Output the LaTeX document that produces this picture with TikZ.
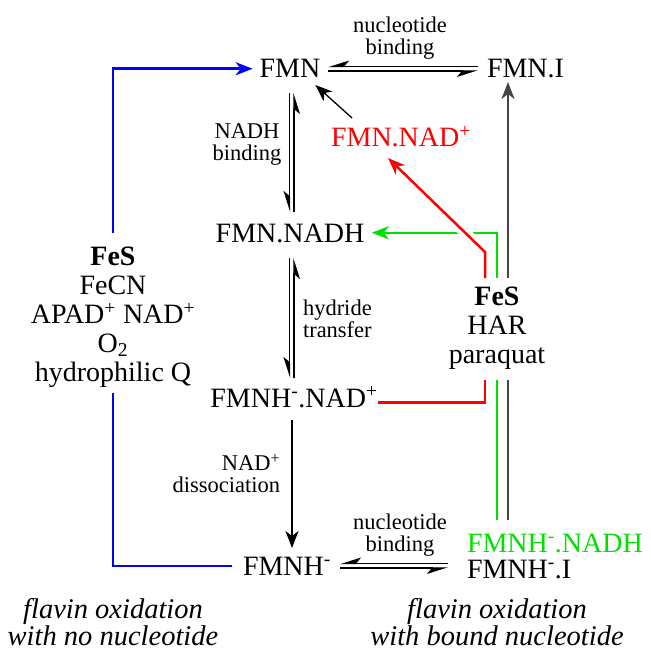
\documentclass[tikz,border=0pt]{standalone}
\usepackage{fontspec}
\setmainfont{Liberation Serif}
\usetikzlibrary{arrows.meta,calc}
\definecolor{myblue}{RGB}{0,0,255}
\definecolor{myred}{RGB}{255,0,0}
\definecolor{mygreen}{RGB}{0,225,0}
\definecolor{mygray}{RGB}{70,70,70}
\begin{document}
\begin{tikzpicture}[x=1pt,y=-1pt,
  every node/.style={inner sep=0pt, outer sep=0pt},
  species/.style={font=\fontsize{28}{29}\selectfont, text height=18.5pt, text depth=0pt, anchor=base},
  blockt/.style={font=\fontsize{28}{29}\selectfont, align=center, anchor=north},
  lab/.style={font=\fontsize{22.5}{22}\selectfont, anchor=north},
  note/.style={font=\fontsize{28.5}{27.5}\selectfont\itshape, align=center, anchor=north},
  harp/.style={line width=1.3pt, -{Stealth[right,length=19pt,width=12pt,inset=5pt]}},
  tipa/.style={-{Stealth[length=17pt,width=13pt,inset=5pt]}},
  bluec/.style={draw=myblue, line width=2.5pt},
  redc/.style={draw=myred, line width=2.5pt},
  greenc/.style={draw=mygreen, line width=2.5pt},
  grayc/.style={draw=mygray, line width=2pt},
  thinc/.style={line width=1.3pt}
]
\useasboundingbox (0,0) rectangle (650,652);

% species
\node[species] (fmn) at (290,78) {FMN};
\node[species, anchor=base west] (fmni) at (487,78) {FMN.I};
\node[species, text=myred] (fmnnad) at (401,147) {FMN.NAD\textsuperscript{+}};
\node[species] (fmnnadh) at (290,242) {FMN.NADH};
\node[species] (fmnhnad) at (294,407) {FMNH\textsuperscript{-}.NAD\textsuperscript{+}};
\node[species] (fmnh) at (287,575) {FMNH\textsuperscript{-}};
\node[species, anchor=base west, text=mygreen] (fmnhnadh) at (467,552) {FMNH\textsuperscript{-}.NADH};
\node[species, anchor=base west] (fmnhi) at (467,578) {FMNH\textsuperscript{-}.I};

% reagent blocks
\node[blockt] (fesl) at (113,246.5) {\textbf{FeS}\\FeCN\\APAD\textsuperscript{+} NAD\textsuperscript{+}\\O\textsubscript{2}\\hydrophilic Q};
\node[blockt] (fesr) at (497,286.5) {\textbf{FeS}\\HAR\\paraquat};

% labels
\node[lab, align=center] (nb1) at (400,17) {nucleotide\\binding};
\node[lab, align=center] (nb2) at (400,513.5) {nucleotide\\binding};
\node[lab, align=center] (nadhb) at (247,124) {NADH\\binding};
\node[lab, align=left, anchor=north west] (hyd) at (303,300) {hydride\\transfer};
\node[lab, align=right, anchor=north east] (diss) at (280,454.5) {NAD\textsuperscript{+}\\dissociation};

% notes
\node[note] (nl) at (113,598) {flavin oxidation\\with no nucleotide};
\node[note] (nr) at (497,598) {flavin oxidation\\with bound nucleotide};

% x references
\coordinate (gx) at (508,0);
\coordinate (gnx) at (497,0);
\coordinate (rx) at (485,0);

% blue
\draw[bluec, tipa, shorten <=14pt, shorten >=7pt] (fesl.north) |- (fmn.west);
\draw[bluec, shorten <=6pt, shorten >=11pt] (fesl.south) |- (fmnh.west);

% equilibria
\draw[harp, shorten <=9pt, shorten >=7.7pt] ([yshift=2.2pt]fmni.west) -- ([yshift=2.2pt]fmn.east);
\draw[harp, shorten <=7.7pt, shorten >=9pt] ([yshift=-2.2pt]fmn.east) -- ([yshift=-2.2pt]fmni.west);

\draw[harp, shorten <=15pt, shorten >=11.5pt] ([xshift=-0.5pt]fmn.south) -- ([xshift=-0.5pt]fmnnadh.north);
\draw[harp, shorten <=11.5pt, shorten >=15pt] ([xshift=4pt]fmnnadh.north) -- ([xshift=4pt]fmn.south);

\draw[harp, shorten <=16pt, shorten >=10.5pt] ([xshift=-0.5pt]fmnnadh.south) -- ([xshift=-4.5pt]fmnhnad.north);
\draw[harp, shorten <=10.5pt, shorten >=16pt] ([xshift=0pt]fmnhnad.north) -- ([xshift=4pt]fmnnadh.south);

\draw[harp, shorten <=19pt, shorten >=9pt] ([yshift=2.2pt]fmnh.east -| fmnhi.west) -- ([yshift=2.2pt]fmnh.east);
\draw[harp, shorten <=9pt, shorten >=19pt] ([yshift=-2.2pt]fmnh.east) -- ([yshift=-2.2pt]fmnh.east -| fmnhi.west);

% dissociation
\draw[thinc, tipa, shorten <=13pt, shorten >=8.5pt] ([xshift=-2pt]fmnhnad.south) -- ([xshift=5pt]fmnh.north);

% thin arrow to FMN
\draw[thinc, tipa] ([xshift=21pt,yshift=10.5pt]fmnnad.north west) -- ([xshift=-5pt,yshift=-7pt]fmn.south east);

% gray
\draw[grayc, tipa, shorten <=8.5pt, shorten >=4pt] (fesr.north -| gx) -- (fmni.south -| gx);
\draw[grayc, shorten <=11pt, shorten >=13.5pt] (fesr.south -| gx) -- (fmnhnadh.north -| gx);

% green
\draw[greenc, tipa, shorten <=8.5pt, shorten >=7.5pt] (fesr.north -| gnx) |- (fmnnadh.east);
\draw[greenc, shorten <=11pt, shorten >=13.5pt] (fesr.south -| gnx) -- (fmnhnadh.north -| gnx);

% red
\coordinate (rc) at (485,252);
\coordinate (rt) at ([xshift=-13pt,yshift=-11pt]fmnnad.south);
\draw[white, line width=11pt] ($(rc)!0.12!(rt)$) -- ($(rc)!0.3!(rt)$);
\draw[redc, tipa, shorten <=8.5pt] (fesr.north -| rx) -- (rc) -- (rt);
\draw[redc, shorten <=11pt] (fesr.south -| rx) |- ([yshift=-4.5pt]fmnhnad.east);
\end{tikzpicture}
\end{document}
